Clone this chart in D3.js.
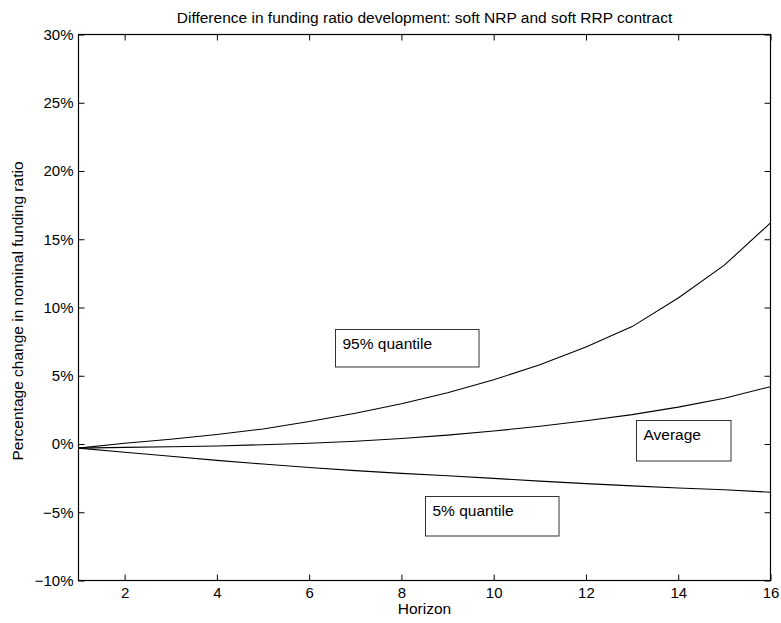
<!DOCTYPE html>
<html>
<head>
<meta charset="utf-8">
<script src="https://cdn.jsdelivr.net/npm/d3@7"></script>
<style>
  html, body { margin: 0; padding: 0; background: #fff; }
  svg { display: block; }
  text { font-family: "Liberation Sans", Arial, Helvetica, sans-serif; fill: #000; }
</style>
</head>
<body>
<svg id="chart" width="781" height="623"></svg>
<script>
const horizon = [1,2,3,4,5,6,7,8,9,10,11,12,13,14,15,16];
const q95 = [-0.3,0.05,0.35,0.7,1.1,1.65,2.25,2.95,3.75,4.7,5.8,7.1,8.6,10.7,13.1,16.2];
const avg = [-0.3,-0.25,-0.2,-0.15,-0.05,0.05,0.2,0.4,0.65,0.95,1.3,1.7,2.15,2.7,3.35,4.2];
const q05 = [-0.3,-0.6,-0.9,-1.2,-1.47,-1.72,-1.95,-2.15,-2.33,-2.52,-2.72,-2.9,-3.07,-3.22,-3.35,-3.53];
const xTicks = [2,4,6,8,10,12,14,16];
const yTicks = [-10,-5,0,5,10,15,20,25,30];
const seriesLabels = ["95% quantile", "Average", "5% quantile"];

const svg = d3.select("#chart");
const L = 78.5, R = 770.5, T = 34.5, B = 580.5;
const FS = 15;
const x = d3.scaleLinear().domain([1,16]).range([L,R]);
const y = d3.scaleLinear().domain([-10,30]).range([B,T]);
const fmtY = d => (d < 0 ? "\u2212" + Math.abs(d) : d) + "%";

// Axes (ticks inward)
const tl = 6;
svg.append("g").attr("transform",`translate(0,${B})`)
  .call(d3.axisBottom(x).tickValues(xTicks).tickSize(-tl).tickPadding(7).tickFormat(d3.format("d")))
  .call(g => g.select(".domain").remove());
svg.append("g").attr("transform",`translate(0,${T})`)
  .call(d3.axisTop(x).tickValues(xTicks).tickSize(-tl).tickFormat(""))
  .call(g => g.select(".domain").remove());
svg.append("g").attr("transform",`translate(${L},0)`)
  .call(d3.axisLeft(y).tickValues(yTicks).tickSize(-tl).tickPadding(5).tickFormat(fmtY))
  .call(g => g.select(".domain").remove());
svg.append("g").attr("transform",`translate(${R},0)`)
  .call(d3.axisRight(y).tickValues(yTicks).tickSize(-tl).tickFormat(""))
  .call(g => g.select(".domain").remove());
svg.selectAll(".tick text").attr("font-size", FS).attr("font-family", '"Liberation Sans", Arial, sans-serif');
svg.selectAll(".tick line").attr("stroke", "#000");

svg.append("rect").attr("x",L).attr("y",T).attr("width",R-L).attr("height",B-T)
  .attr("fill","none").attr("stroke","#000").attr("stroke-width",1.2);

// Lines
const line = d3.line().x((d,i)=>x(horizon[i])).y(d=>y(d));
[q95, avg, q05].forEach(s => {
  svg.append("path").attr("d", line(s)).attr("fill","none").attr("stroke","#000").attr("stroke-width",1.1);
});

// Annotation boxes
const boxes = [
  {label: seriesLabels[0], x0: 335.5, y0: 329.5, w: 143.5, h: 37.5},
  {label: seriesLabels[1], x0: 636.5, y0: 420.5, w: 94.5, h: 40.5},
  {label: seriesLabels[2], x0: 425.5, y0: 496.5, w: 133.5, h: 39.5}
];
boxes.forEach(b => {
  svg.append("rect").attr("x",b.x0).attr("y",b.y0).attr("width",b.w).attr("height",b.h)
    .attr("fill","#fff").attr("stroke","#333").attr("stroke-width",1);
  svg.append("text").attr("x",b.x0+7).attr("y",b.y0+19).attr("font-size",15.5).text(b.label);
});

// Title and axis labels
svg.append("text").attr("x",(L+R)/2).attr("y",23).attr("text-anchor","middle").attr("font-size",15.5)
  .text("Difference in funding ratio development: soft NRP and soft RRP contract");
svg.append("text").attr("x",(L+R)/2).attr("y",614).attr("text-anchor","middle").attr("font-size",15.5)
  .text("Horizon");
svg.append("text").attr("transform",`translate(23,311) rotate(-90)`).attr("text-anchor","middle").attr("font-size",15.5)
  .text("Percentage change in nominal funding ratio");
</script>
</body>
</html>
